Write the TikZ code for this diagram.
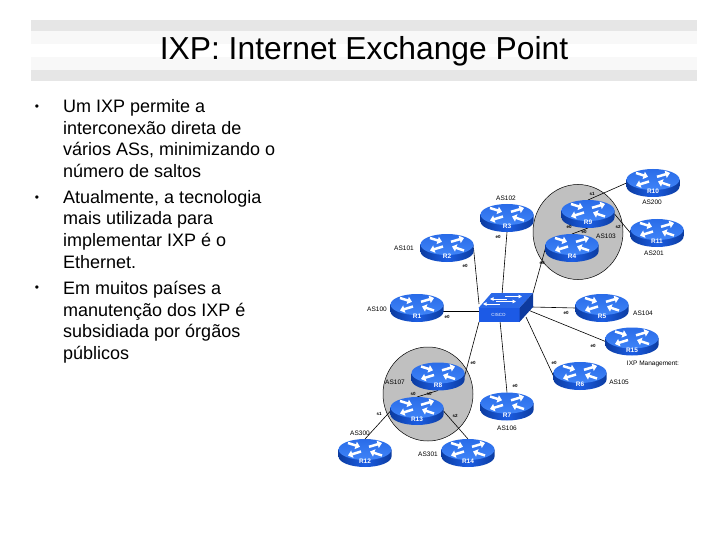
\documentclass[tikz,border=0pt]{standalone}
\usepackage{fontspec}
\setmainfont{Liberation Sans}
\usetikzlibrary{arrows.meta,calc}
\definecolor{rtopa}{HTML}{2A6CE8}
\definecolor{rtopb}{HTML}{3F84F8}
\definecolor{rside}{HTML}{1C5EE4}
\definecolor{rdark}{HTML}{0C3CA0}
\definecolor{swtop}{HTML}{2A68E8}
\definecolor{swfront}{HTML}{1C5AE6}
\definecolor{swside}{HTML}{0E3A9E}
\definecolor{bandA}{HTML}{E6E6E6}
\definecolor{bandB}{HTML}{F8F8F8}
\definecolor{asgray}{HTML}{C0C0C0}
\tikzset{
  routerbox/.style={minimum width=53pt,minimum height=28pt,inner sep=0pt,outer sep=0pt},
  link/.style={draw=black,line width=0.6pt},
  asarea/.style={draw=black,line width=0.5pt,fill=asgray},
  band/.style={fill=#1,draw=none},
  aslabel/.style={inner sep=0pt,font=\fontsize{6.5}{7}\selectfont},
  iflabel/.style={inner sep=0pt,font=\bfseries\fontsize{4.5}{5}\selectfont},
  routerlabel/.style={inner sep=0pt,text=white,font=\bfseries\fontsize{6.5}{7}\selectfont},
  rarrow/.style={draw=white,line width=2.5pt,-{Triangle[width=7.5pt,length=4.5pt]}},
  sarrow/.style={draw=white,line width=1pt,-{Triangle[width=3.5pt,length=3.5pt]}},
  bodytext/.style={anchor=north west,inner sep=0pt,align=left,font=\fontsize{18}{21.6}\selectfont},
  bulletmark/.style={inner sep=0pt,font=\fontsize{12}{14}\selectfont},
}
\newcommand{\routerart}[2]{%
  \begin{scope}[shift={(#1.center)}]
    \path[left color=rdark,right color=rdark,middle color=rside]
      (-26.5,3.5) -- (-26.5,-3.5) arc[start angle=180,end angle=360,x radius=26.5,y radius=10.5] -- (26.5,3.5) -- cycle;
    \path[top color=rtopa,bottom color=rtopb] (0,3.5) ellipse[x radius=26.5,y radius=10.5];
    \draw[rarrow] (-17,10) -- (-5,6.2);
    \draw[rarrow] (4,6.2) -- (17,10);
    \draw[rarrow] (-4,1.5) -- (-17,-2.5);
    \draw[rarrow] (17,-2.5) -- (5,1.5);
    \node[routerlabel] (#1t) at (0,-8.5) {#2};
  \end{scope}}
\begin{document}
\begin{tikzpicture}[x=1pt,y=1pt]
\useasboundingbox (0,-540) rectangle (720,0);
\fill[white] (0,-540) rectangle (720,0);
% title bar
\path[band=bandA] (31,-20) rectangle (697,-31);
\path[band=bandB] (31,-31) rectangle (697,-44);
\path[band=bandB] (31,-57) rectangle (697,-70);
\path[band=bandA] (31,-70) rectangle (697,-81);
\node[inner sep=0pt,font=\fontsize{31.8}{36}\selectfont] (title) at (364,-51) {IXP: Internet Exchange Point};
% text
\node[bulletmark] (b1) at (37,-108) {•};
\node[bulletmark] (b2) at (37,-199) {•};
\node[bulletmark] (b3) at (37,-289) {•};
\node[bodytext] (t1) at (63,-99.5) {Um IXP permite a\\interconexão direta de\\vários ASs, minimizando o\\número de saltos};
\node[bodytext] (t2) at (63,-190) {Atualmente, a tecnologia\\mais utilizada para\\implementar IXP é o\\Ethernet.};
\node[bodytext] (t3) at (63,-281) {Em muitos países a\\manutenção dos IXP é\\subsidiada por órgãos\\públicos};
% AS areas
\draw[asarea] (578,-232) ellipse[x radius=45,y radius=47.5];
\draw[asarea] (428,-394) ellipse[x radius=45,y radius=47];
% anchors
\foreach \n/\x/\y in {R10/653/183,R11/657/233,R9/588/214,R3/507/218,R4/572/248,R2/447/248,R1/417/308,R5/602/308,R15/632/341.5,R6/580/376,R7/507/406.5,R8/438/376.5,R13/417/411,R12/365/453,R14/468/453}
  \node[routerbox] (\n) at (\x,-\y) {};
\node[minimum width=54pt,minimum height=29pt,inner sep=0pt,outer sep=0pt] (sw) at (506,-307.5) {};
\coordinate (sa) at (479,-304);
\coordinate (sb) at (502,-295);
\coordinate (sd) at (532,-307);
\coordinate (se) at (528,-310);
\coordinate (sf) at (526,-317);
\coordinate (sg) at (500,-321);
\coordinate (si) at (480,-311);
\coordinate (ra) at (440,-311);
% links
\draw[link] (R10.west) -- (R9.north);
\draw[link] (R9.east) -- (R11.west);
\draw[link] (R9.south) -- (R4.north);
\draw[link] (R4.west) -- (sw.north east);
\draw[link] (R3.south) -- (sb);
\draw[link] (R2.east) -- (sa);
\draw[link] (ra) -- (si);
\draw[link] (R5.west) -- (sd);
\draw[link] (R15.west) -- (se);
\draw[link] (R6.west) -- (sf);
\draw[link] (R7.north) -- (sg);
\draw[link] (R8.east) -- (sw.south west);
\draw[link] (R8.south) -- (R13.north);
\draw[link] (R13.west) -- (R12.north);
\draw[link] (R13.east) -- (R14.north);
% routers
\routerart{R10}{R10}
\routerart{R11}{R11}
\routerart{R9}{R9}
\routerart{R3}{R3}
\routerart{R4}{R4}
\routerart{R2}{R2}
\routerart{R1}{R1}
\routerart{R5}{R5}
\routerart{R15}{R15}
\routerart{R6}{R6}
\routerart{R7}{R7}
\routerart{R8}{R8}
\routerart{R13}{R13}
\routerart{R12}{R12}
\routerart{R14}{R14}
% switch
\fill[swtop] (491.5,-293) -- (533,-293) -- (519.5,-308) -- (478.5,-308) -- cycle;
\fill[swfront] (478.5,-308) -- (519.5,-308) -- (519.5,-322) -- (478.5,-322) -- cycle;
\fill[swside] (519.5,-308) -- (533,-293) -- (533,-307) -- (519.5,-322) -- cycle;
\draw[sarrow] (507,-299) -- (490,-299);
\draw[sarrow] (505,-296.5) -- (522,-296.5);
\draw[sarrow] (500,-304) -- (483,-304);
\draw[sarrow] (496,-301.5) -- (516,-301.5);
\node[inner sep=0pt,text=white,font=\fontsize{4.5}{5}\selectfont] (swt) at (498.5,-314.5) {CISCO};
% AS labels
\node[aslabel] (a102) at (506,-198) {AS102};
\node[aslabel] (a101) at (404,-248) {AS101};
\node[aslabel] (a100) at (377,-309) {AS100};
\node[aslabel] (a103) at (606,-236) {AS103};
\node[aslabel] (a200) at (652,-202) {AS200};
\node[aslabel] (a201) at (654,-253) {AS201};
\node[aslabel] (a104) at (643,-313) {AS104};
\node[aslabel] (aixp) at (653,-364) {IXP Management:};
\node[aslabel] (a105) at (619,-382) {AS105};
\node[aslabel] (a106) at (507,-428) {AS106};
\node[aslabel] (a107) at (395,-382) {AS107};
\node[aslabel] (a300) at (360,-433) {AS300};
\node[aslabel] (a301) at (428,-454) {AS301};
% interface labels
\node[iflabel] (i1) at (592,-194) {s1};
\node[iflabel] (i2) at (618,-227) {s2};
\node[iflabel] (i3) at (569,-227) {e0};
\node[iflabel] (i4) at (584,-232) {e0};
\node[iflabel] (i5) at (542,-263) {e0};
\node[iflabel] (i6) at (498,-237) {e0};
\node[iflabel] (i7) at (465,-266) {e0};
\node[iflabel] (i8) at (447,-317) {e0};
\node[iflabel] (i9) at (566,-313) {e0};
\node[iflabel] (i10) at (593,-346) {e0};
\node[iflabel] (i11) at (554,-363) {e0};
\node[iflabel] (i12) at (515,-386) {e0};
\node[iflabel] (i13) at (473,-363) {e0};
\node[iflabel] (i14) at (413,-394) {s0};
\node[iflabel] (i15) at (429,-394) {s0};
\node[iflabel] (i16) at (379,-414) {s1};
\node[iflabel] (i17) at (455,-416) {s2};
\end{tikzpicture}
\end{document}
